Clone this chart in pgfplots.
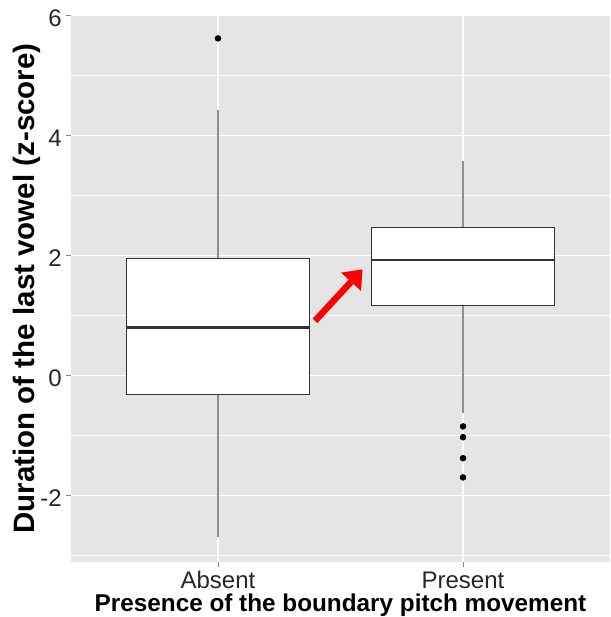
\documentclass[border=0pt]{standalone}
\usepackage{pgfplots}
\pgfplotsset{compat=1.18}
\usepgfplotslibrary{statistics}
\usetikzlibrary{arrows.meta}
\usepackage{fontspec}
\setmainfont{Liberation Sans}
\definecolor{panel}{HTML}{E5E5E5}
\definecolor{g20}{HTML}{333333}
\begin{document}
\begin{tikzpicture}
\begin{axis}[
  name=ax,
  scale only axis,
  width=539pt, height=547pt,
  xmin=0.4, xmax=2.6,
  ymin=-3.11, ymax=6.01,
  boxplot/draw direction=y,
  boxplot/every whisker/.style={draw=g20!55!white, line width=1.4pt},
  boxplot/every median/.style={draw=g20, line width=2.2pt},
  axis background/.style={fill=panel},
  axis line style={draw=none},
  xtick={1,2}, xticklabels={Absent,Present},
  ytick={-2,0,2,4,6},
  minor ytick={-3,-1,1,3,5},
  tick pos=left,
  grid=both,
  major grid style={white, line width=1.2pt},
  minor grid style={white!97!panel, line width=0.6pt},
  tick style={g20!60, line width=0.8pt},
  tick align=outside,
  major tick length=5pt,
  minor tick length=0pt,
  /pgf/number format/assume math mode=true,
  ticklabel style={font=\fontsize{24}{26}\selectfont, text=black!85},
  every y tick label/.append style={anchor=east, inner sep=0pt, xshift=-4pt, yshift=-3pt},
  xticklabel style={anchor=base, yshift=-21pt},
  xlabel={\textbf{Presence of the boundary pitch movement}},
  ylabel={\textbf{Duration of the last vowel (z-score)}},
  xlabel style={font=\fontsize{24.3}{26}\selectfont, at={(axis description cs:0.5,0)}, anchor=base, yshift=-49pt},
  ylabel style={font=\fontsize{29.5}{31}\selectfont, at={(axis description cs:0,0.5)}, anchor=center, yshift=44pt},
  clip=false,
]
\addplot+[boxplot prepared={draw position=1, lower whisker=-2.69, lower quartile=-0.31, median=0.80, upper quartile=1.95, upper whisker=4.43, box extend=0.75, whisker extend=0},
  draw=g20, fill=white, line width=0.9pt, mark=none]
  coordinates {};
\addplot+[boxplot prepared={draw position=2, lower whisker=-0.63, lower quartile=1.16, median=1.92, upper quartile=2.46, upper whisker=3.57, box extend=0.75, whisker extend=0},
  draw=g20, fill=white, line width=0.9pt, mark=none]
  coordinates {};
\addplot[only marks, mark=*, mark size=3pt, black] coordinates {(1,5.62) (2,-0.85) (2,-1.03) (2,-1.38) (2,-1.70)};
\draw[red, line width=6.5pt, -{Triangle[length=17pt,width=26pt]}] (axis cs:1.396,0.91) -- (axis cs:1.59,1.77);
\end{axis}
\pgfresetboundingbox
\useasboundingbox ([shift={(-71pt,-55pt)}]ax.south west) rectangle ([shift={(0pt,15pt)}]ax.north east);
\end{tikzpicture}
\end{document}
